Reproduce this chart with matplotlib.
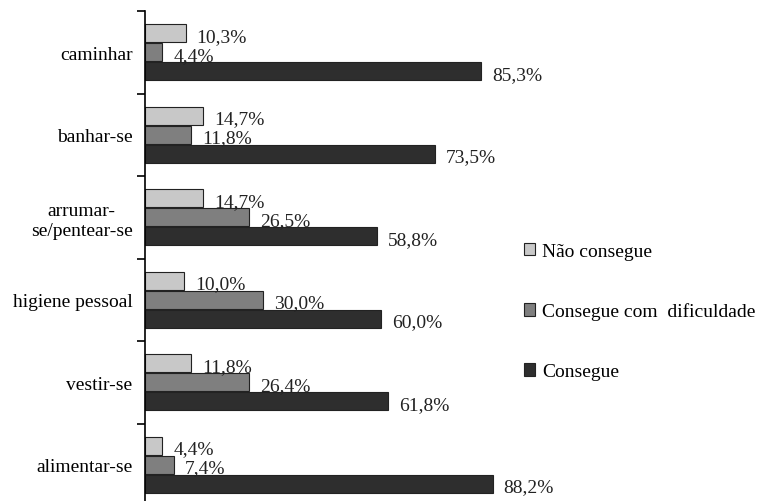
import matplotlib

matplotlib.use("Agg")
import matplotlib.pyplot as plt
import numpy as np

# categories from bottom to top
activities = ["alimentar-se", "vestir-se", "higiene pessoal",
              "arrumar-\nse/pentear-se", "banhar-se", "caminhar"]
nao_consegue = [4.4, 11.8, 10.0, 14.7, 14.7, 10.3]
com_dificuldade = [7.4, 26.4, 30.0, 26.5, 11.8, 4.4]
consegue = [88.2, 61.8, 60.0, 58.8, 73.5, 85.3]
series_names = ["Não consegue", "Consegue com  dificuldade", "Consegue"]
colors = ["#c8c8c8", "#7f7f7f", "#2e2e2e"]

plt.rcParams["font.family"] = ["Liberation Serif", "DejaVu Serif"]

fig = plt.figure(figsize=(7.62, 5.02), dpi=100)
ax = fig.add_axes([145 / 762, -5 / 502, 394 / 762, 495 / 502])

y = np.arange(len(activities))
h = 0.22
offsets = [0.23, 0.0, -0.23]
series = [nao_consegue, com_dificuldade, consegue]

for vals, off, col, name in zip(series, offsets, colors, series_names):
    bars = ax.barh(y + off, vals, height=h, color=col, edgecolor="#222222",
                   linewidth=0.8, label=name)
    for b, v in zip(bars, vals):
        ax.annotate(f"{v:.1f}%".replace(".", ","),
                    (b.get_width(), b.get_y() + b.get_height() / 2),
                    xytext=(11, -3), textcoords="offset pixels",
                    ha="left", va="center", fontsize=14, color="#222222")

ax.set_xlim(0, 100)
ax.set_ylim(-0.5, len(activities) - 0.5)

# boundary ticks on the left spine, category names in between
ax.set_yticks(np.arange(-0.5, len(activities), 1.0))
ax.set_yticklabels([])
ax.tick_params(axis="y", which="major", length=6, width=1.2, direction="out")
ax.set_yticks(y, minor=True)
ax.set_yticklabels(activities, minor=True, fontsize=14, multialignment="center")
ax.tick_params(axis="y", which="minor", length=0, pad=9)

ax.set_xticks([])
for side in ["top", "right", "bottom"]:
    ax.spines[side].set_visible(False)
ax.spines["left"].set_linewidth(1.2)

fig.legend(loc="upper left", bbox_to_anchor=(516 / 762, 1 - 236 / 502),
           frameon=False, fontsize=14, labelspacing=2.2,
           handlelength=0.6, handleheight=0.6, handletextpad=0.35,
           borderaxespad=0)

fig.savefig("out.png", dpi=100)
